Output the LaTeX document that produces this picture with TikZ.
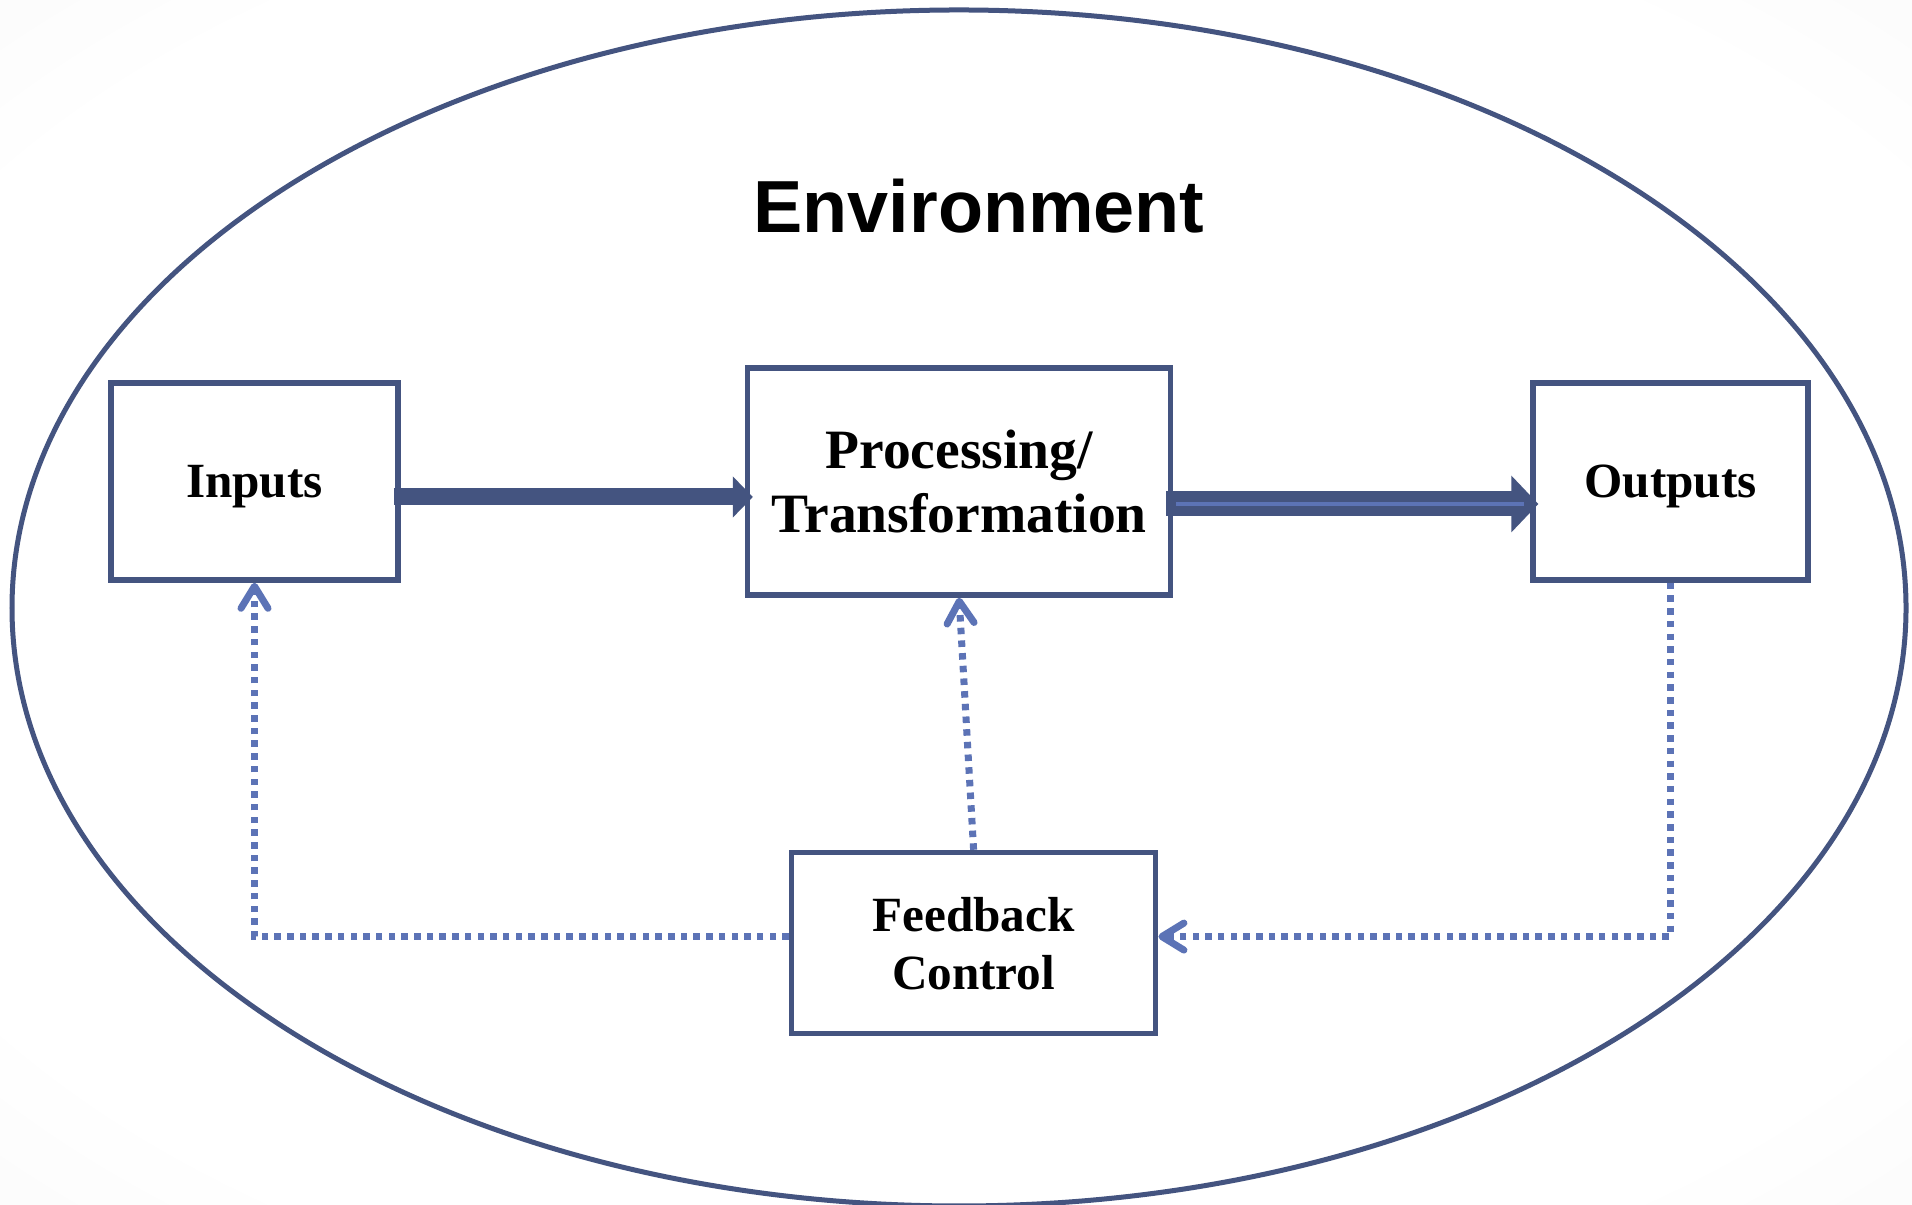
\documentclass[tikz,border=0pt]{standalone}
\usepackage{fontspec}
\setmainfont{Liberation Serif}
\setsansfont{Liberation Sans}
\usetikzlibrary{arrows.meta,positioning}

\definecolor{boxblue}{RGB}{68,84,128}
\definecolor{fbblue}{RGB}{92,115,182}

\pgfdeclareradialshading{slidebg}{\pgfpoint{0bp}{0bp}}{%
  color(0bp)=(white); color(30bp)=(white);
  color(50bp)=(black!5); color(71bp)=(black!15)}

\begin{document}
\begin{tikzpicture}
    \tikzset{block/.style={
      draw=boxblue,
      line width=0.056cm,
      rectangle,
      fill=white,
      align=center,
      text depth=0pt,
      font=\fontsize{14}{16.5}\selectfont\bfseries,
      minimum width=2.87cm,
      minimum height=1.97cm
    }};
    \tikzset{flow/.style={
      boxblue,
      line width=0.17cm,
      -{Triangle[length=0.2cm,width=0.4cm]}
    }};
    \tikzset{fbline/.style={
      fbblue,
      line width=0.07cm,
      dash pattern=on 0.065cm off 0.062cm,
      -{Straight Barb[length=0.22cm,width=0.27cm,line width=0.07cm,round]}
    }};

    \useasboundingbox (0,0) rectangle (19.12,12.05);
    \shade[shading=slidebg] (0,0) rectangle (19.12,12.05);
    \draw[boxblue, line width=0.05cm, fill=white]
      (9.59,5.97) ellipse [x radius=9.47cm, y radius=5.98cm];

    \node [anchor=base, font=\fontsize{21}{25}\selectfont\sffamily\bfseries]
      (env) at (9.79,9.72) {Environment};

    \node [block] (inputs) at (2.545,7.235) {Inputs};
    \node [block, right=3.44cm of inputs, minimum width=4.23cm,
      minimum height=2.27cm, font=\fontsize{15.8}{18.2}\selectfont\bfseries]
      (proc) {Processing/\\Transformation};
    \node [block, right=3.57cm of proc, minimum width=2.75cm] (outputs) {Outputs};
    \node [block, below=2.52cm of proc, xshift=0.145cm, minimum width=3.64cm,
      minimum height=1.81cm] (feedback) {Feedback\\Control};

    \path[draw, flow, shorten <=-0.07cm, shorten >=-0.08cm]
      ([yshift=-0.155cm]inputs.east) -- ([yshift=-0.155cm]proc.west);

    \path[draw, flow, line width=0.25cm,
      -{Triangle[length=0.27cm,width=0.55cm]},
      shorten <=-0.07cm, shorten >=-0.08cm,
      postaction={draw=fbblue, line width=0.042cm, -,
        shorten <=0.026cm, shorten >=0.066cm}]
      ([yshift=-0.225cm]proc.east) -- ([yshift=-0.225cm]outputs.west);

    \draw[fbline] ([yshift=0.065cm]feedback.west) -| (inputs.south);
    \draw[fbline] (outputs.south) |- ([yshift=0.065cm]feedback.east);
    \draw[fbline] (feedback.north) -- (proc.south);
\end{tikzpicture}
\end{document}
